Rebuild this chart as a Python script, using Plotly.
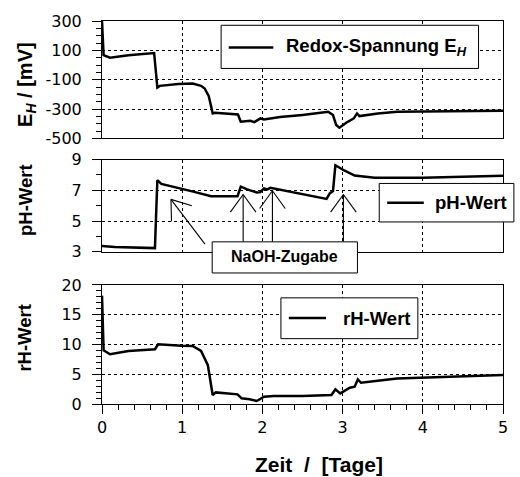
import numpy as np
import plotly.graph_objects as go

# ---------------- measured series (time in days) ----------------
time_eh = [0, 0.02, 0.10, 0.33, 0.65, 0.69, 0.72, 0.95, 1.13, 1.235, 1.28, 1.33, 1.36, 1.38, 1.41,
           1.695, 1.73, 1.85, 1.90, 1.975, 2.02, 2.22, 2.50, 2.82, 2.88, 2.92, 2.96, 3.045, 3.14,
           3.18, 3.21, 3.44, 3.68, 4.00, 5.00]
redox_eh = [300, 67, 50, 67, 82, -153, -142, -130, -126, -142, -160, -210, -280, -330, -325,
            -337, -386, -380, -389, -364, -371, -355, -340, -319, -341, -409, -427, -393, -364,
            -330, -348, -330, -318, -316, -312]

time_ph = [0, 0.16, 0.66, 0.69, 0.74, 0.99, 1.15, 1.36, 1.69, 1.73, 1.81, 1.93, 1.975, 2.02,
           2.06, 2.10, 2.50, 2.80, 2.84, 2.88, 2.91, 3.02, 3.15, 3.40, 4.00, 5.00]
ph_value = [3.38, 3.32, 3.24, 7.66, 7.42, 7.12, 6.90, 6.62, 6.62, 7.24, 7.06, 6.86, 6.88, 7.12,
            7.06, 7.16, 6.73, 6.44, 6.80, 6.95, 8.63, 8.29, 7.96, 7.81, 7.81, 7.94]

time_rh = [0, 0.02, 0.10, 0.33, 0.66, 0.70, 0.99, 1.13, 1.235, 1.32, 1.38, 1.42, 1.69, 1.74,
           1.84, 1.93, 2.02, 2.14, 2.50, 2.86, 2.91, 2.97, 3.09, 3.15, 3.19, 3.23, 3.68, 4.00, 5.00]
rh_value = [18.2, 9.02, 8.35, 8.91, 9.19, 10.02, 9.80, 9.75, 8.91, 6.52, 1.50, 1.95, 1.62, 0.95,
            0.78, 0.50, 1.22, 1.34, 1.34, 1.50, 2.45, 1.78, 2.73, 2.90, 4.12, 3.56, 4.29, 4.40, 4.85]

# NaOH dosing events: time and the pH level the arrow points at
naoh_days = [0.86, 1.76, 2.125, 3.01]
naoh_ph = [6.41, 6.73, 6.97, 6.73]

# ---------------- ticks ----------------
day_ticks = [0, 1, 2, 3, 4, 5]
day_labels = ["0", "1", "2", "3", "4", "5"]
eh_ticks = [-500, -300, -100, 100, 300]
eh_labels = ["-500", "-300", "-100", "100", "300"]
ph_ticks = [3, 5, 7, 9]
ph_labels = ["3", "5", "7", "9"]
rh_ticks = [0, 5, 10, 15, 20]
rh_labels = ["0", "5", "10", "15", "20"]

# ---------------- geometry helpers ----------------
W, H = 520, 477
ML, MR, MT, MB = 102, 13, 19, 73
PW, PH = W - ML - MR, H - MT - MB


def fx(px):
    return (px - ML) / PW


def fy(py):
    return (H - MB - py) / PH


DOM_TOP = [fy(137), 1.0]
DOM_MID = [fy(251), fy(158.3)]
DOM_BOT = [0.0, fy(284.3)]

X_RANGE = [0, 5]
PH_RANGE = [3, 9]


def day_px(d):
    return ML + (d - X_RANGE[0]) / (X_RANGE[1] - X_RANGE[0]) * PW


def ph_py(v):
    top, bot = 158.3, 251
    return top + (PH_RANGE[1] - v) / (PH_RANGE[1] - PH_RANGE[0]) * (bot - top)


BLACK = "#000000"
LINE_W = 2.5
DOTS = "dot"
TICK_FONT = dict(family="DejaVu Sans", size=16, color=BLACK)
BOLD = "Liberation Sans"

fig = go.Figure()
fig.add_trace(go.Scatter(x=time_eh, y=redox_eh, mode="lines", name="Redox-Spannung E<sub>H</sub>",
                         line=dict(color=BLACK, width=LINE_W), xaxis="x", yaxis="y", showlegend=False))
fig.add_trace(go.Scatter(x=time_ph, y=ph_value, mode="lines", name="pH-Wert",
                         line=dict(color=BLACK, width=LINE_W), xaxis="x2", yaxis="y2", showlegend=False))
fig.add_trace(go.Scatter(x=time_rh, y=rh_value, mode="lines", name="rH-Wert",
                         line=dict(color=BLACK, width=LINE_W), xaxis="x3", yaxis="y3", showlegend=False))

frame = dict(showline=True, linecolor=BLACK, linewidth=1, mirror=True, zeroline=False)
grid = dict(showgrid=True, gridcolor=BLACK, gridwidth=1, griddash=DOTS)
tk = dict(ticks="outside", ticklen=9, tickwidth=1, tickcolor=BLACK, tickfont=TICK_FONT)
mn = dict(ticks="outside", ticklen=5, tickwidth=1, tickcolor=BLACK, showgrid=False)


def y_axis(anchor, dom, rng, vals, labels, minor_step):
    return dict(domain=dom, anchor=anchor, range=rng, tickmode="array", tickvals=vals, ticktext=labels,
                ticklabelstandoff=7, minor=dict(tick0=rng[0], dtick=minor_step, **mn), **tk, **grid, **frame)


def x_axis(anchor):
    return dict(domain=[0, 1], anchor=anchor, range=X_RANGE, tickmode="array", tickvals=day_ticks,
                showticklabels=False, ticks="", **grid, **frame)


fig.update_layout(
    width=W, height=H,
    margin=dict(l=ML, r=MR, t=MT, b=MB, pad=0),
    paper_bgcolor="white", plot_bgcolor="white",
    showlegend=False,
    xaxis=x_axis("y"),
    xaxis2=x_axis("y2"),
    xaxis3=dict(domain=[0, 1], anchor="y3", range=X_RANGE, tickmode="array", tickvals=day_ticks,
                ticktext=day_labels, ticklabelstandoff=0, minor=dict(tick0=0, dtick=0.2, **mn),
                **tk, **grid, **frame),
    yaxis=y_axis("x", DOM_TOP, [-500, 300], eh_ticks, eh_labels, 50),
    yaxis2=y_axis("x2", DOM_MID, PH_RANGE, ph_ticks, ph_labels, 1),
    yaxis3=y_axis("x3", DOM_BOT, [0, 20], rh_ticks, rh_labels, 1),
)

shapes = []
annotations = []


def box(x0, x1, y0, y1):
    shapes.append(dict(type="rect", xref="paper", yref="paper", x0=fx(x0), x1=fx(x1), y0=fy(y1), y1=fy(y0),
                       fillcolor="white", line=dict(color=BLACK, width=1), layer="above"))


def seg(x0, y0, x1, y1, width):
    shapes.append(dict(type="line", xref="paper", yref="paper", x0=fx(x0), y0=fy(y0), x1=fx(x1), y1=fy(y1),
                       line=dict(color=BLACK, width=width), layer="above"))


def label(text, x, y, size, xanchor="left", angle=0):
    annotations.append(dict(text=text, xref="paper", yref="paper", x=fx(x), y=fy(y), xanchor=xanchor,
                            yanchor="middle", showarrow=False, textangle=angle,
                            font=dict(family=BOLD, size=size, color=BLACK, weight="bold")))


# legend boxes
box(222.3, 482.3, 23.3, 66.7)
seg(230, 45.7, 275, 45.7, LINE_W)
label("Redox-Spannung E<sub><i>H</i></sub>", 286, 45, 18.5)

box(382, 518, 182.3, 221)
seg(390, 201.7, 427, 201.7, LINE_W)
label("pH-Wert", 436.7, 201.7, 18.5)

box(282.7, 421, 297.3, 338.3)
seg(290.7, 317.5, 328.3, 317.5, LINE_W)
label("rH-Wert", 343.3, 318.3, 18.5)

# NaOH dosing arrows (open heads)
BOX_TOP = 241
HEAD_LEN, HEAD_ANG = 22, np.deg2rad(36)
tails = [(206, 243.3), None, None, None]
for d, v, tail in zip(naoh_days, naoh_ph, tails):
    tx, ty = day_px(d), ph_py(v)
    if tail is None:
        tail = (tx, BOX_TOP)
    seg(tx, ty, tail[0], tail[1], 1.1)
    ux, uy = tail[0] - tx, tail[1] - ty
    n = np.hypot(ux, uy)
    ux, uy = ux / n, uy / n
    for s in (1, -1):
        c, si = np.cos(s * HEAD_ANG), np.sin(s * HEAD_ANG)
        hx, hy = ux * c - uy * si, ux * si + uy * c
        seg(tx, ty, tx + HEAD_LEN * hx, ty + HEAD_LEN * hy, 1.1)

box(213.3, 360, 241, 272.3)
label("NaOH-Zugabe", 286.7, 256, 16, xanchor="center")

# axis titles
label("E<sub><i>H</i></sub> / [mV]", 25, 82.5, 20, xanchor="center", angle=-90)
label("pH-Wert", 24, 199.2, 18.5, xanchor="center", angle=-90)
label("rH-Wert", 24, 337.5, 18.5, xanchor="center", angle=-90)
label("Zeit\u00a0\u00a0/\u00a0\u00a0[Tage]", 321.5, 465, 21, xanchor="center")

fig.update_layout(shapes=shapes, annotations=annotations)
fig.write_html("out.html")
